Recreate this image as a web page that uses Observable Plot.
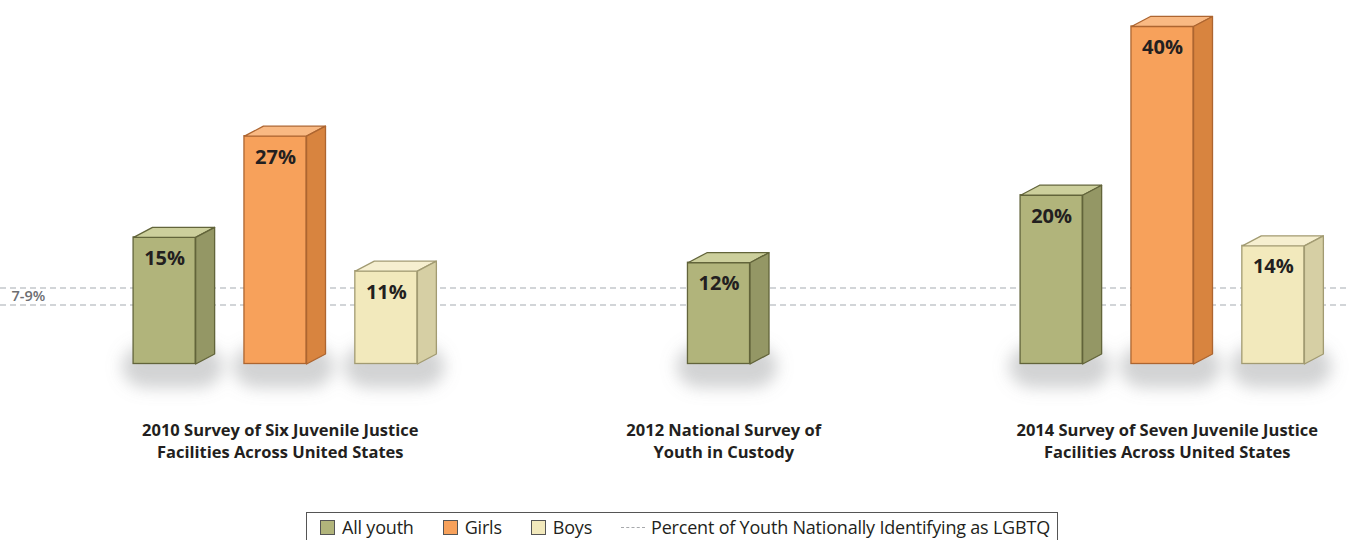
<!DOCTYPE html>
<html>
<head>
<meta charset="utf-8">
<script src="https://cdn.jsdelivr.net/npm/d3@7"></script>
<script src="https://cdn.jsdelivr.net/npm/@observablehq/plot@0.6"></script>
<style>
  html, body { margin: 0; padding: 0; background: #fff; }
  body { width: 1349px; height: 540px; overflow: hidden; position: relative; font-family: "Open Sans", "Noto Sans", sans-serif; }
  #chart svg { display: block; }
  #legend { position: absolute; left: 306px; top: 512px; width: 752px; height: 40px; border: 1px solid #555; box-sizing: border-box; display: flex; align-items: flex-start; padding-top: 2px; padding-left: 13px; font-size: 18px; color: #231f20; letter-spacing: -0.2px; white-space: nowrap; }
  .item { display: flex; align-items: center; margin-right: 29px; }
  .sw { width: 15px; height: 15px; box-sizing: border-box; border: 1px solid #555; margin-right: 7px; }
  .dash { width: 24px; border-top: 1.5px dashed #a7a9ac; margin-right: 6px; }
</style>
</head>
<body>
<div id="chart"></div>
<div id="legend"></div>
<script>
// ---- data ----
const surveys = [
  "2010 Survey of Six Juvenile Justice\nFacilities Across United States",
  "2012 National Survey of\nYouth in Custody",
  "2014 Survey of Seven Juvenile Justice\nFacilities Across United States"
];
const seriesNames = ["All youth", "Girls", "Boys"];
const allYouth = [15, 12, 20];
const girls = [27, null, 40];
const boys = [11, null, 14];
const nationalRange = [7, 9];
const nationalLabel = "7-9%";
const legendLineLabel = "Percent of Youth Nationally Identifying as LGBTQ";

// ---- styles ----
const palette = {
  "All youth": {front: "#b1b47b", top: "#cccf9c", side: "#949765", stroke: "#62643a"},
  "Girls":     {front: "#f7a15b", top: "#f9b983", side: "#d8843f", stroke: "#ad6530"},
  "Boys":      {front: "#f2e9bc", top: "#f6efd0", side: "#d6cfa4", stroke: "#a29b72"}
};

// ---- build table ----
const valuesBySeries = [allYouth, girls, boys];
const bars = [];
surveys.forEach((s, i) => {
  const present = seriesNames.map((n, k) => ({n, v: valuesBySeries[k][i]})).filter(d => d.v != null);
  present.forEach((d, k) => {
    bars.push({survey: s, series: d.n, value: d.v, pos: i * 4 + (k - (present.length - 1) / 2)});
  });
});

const hw = 0.28;      // half width (x units)
const ddx = 0.171;    // depth in x units
const ddy = 1.19;     // depth in y units

// polygon faces
const faces = [];
bars.forEach((b, j) => {
  const x1 = b.pos - hw, x2 = b.pos + hw, v = b.value;
  const top = [[x1, v], [x2, v], [x2 + ddx, v + ddy], [x1 + ddx, v + ddy], [x1, v]];
  const side = [[x2, 0], [x2 + ddx, ddy], [x2 + ddx, v + ddy], [x2, v], [x2, 0]];
  top.forEach(([x, y]) => faces.push({id: "t" + j, face: "top", series: b.series, x, y}));
  side.forEach(([x, y]) => faces.push({id: "s" + j, face: "side", series: b.series, x, y}));
});

const groups = surveys.map((s, i) => ({label: s, pos: i * 4 + ddx / 4}));

const chart = Plot.plot({
  width: 1349,
  height: 508,
  margin: 0,
  x: {domain: [0, 8], range: [275, 1162], axis: null},
  y: {domain: [0, 40], range: [363.5, 26], axis: null},
  style: {fontFamily: "'Open Sans', 'Noto Sans', sans-serif", background: "#fff"},
  marks: [
    Plot.ruleY(nationalRange, {stroke: "#c4c8cb", strokeWidth: 1.4, strokeDasharray: "6,4"}),
    Plot.text([nationalLabel], {y: () => (nationalRange[0] + nationalRange[1]) / 2, frameAnchor: "left", text: d => d, textAnchor: "start", dx: 11, fill: "#6d6e71", fontSize: 14.5, fontWeight: 600}),
    // shadows
    Plot.rect(bars, {x1: d => d.pos - hw - 0.1, x2: d => d.pos + hw + ddx + 0.08, y1: 2.2, y2: -2.9, fill: "#8f9093", fillOpacity: 0.4, rx: 25}),
    // front faces
    Plot.rect(bars, {x1: d => d.pos - hw, x2: d => d.pos + hw, y1: 0, y2: "value", fill: d => palette[d.series].front, stroke: d => palette[d.series].stroke, strokeWidth: 1.3}),
    // side and top faces
    Plot.line(faces, {x: "x", y: "y", z: "id", fill: d => palette[d.series][d.face], stroke: d => palette[d.series].stroke, strokeWidth: 1.3, strokeLinejoin: "round"}),
    // value labels
    Plot.text(bars, {x: "pos", y: "value", text: d => d.value + "%", dy: 21, fill: "#231f20", fontSize: 20, fontWeight: 700}),
    // group labels
    Plot.text(groups, {x: "pos", y: () => 0, text: "label", lineAnchor: "top", dy: 56, lineHeight: 1.35, fill: "#231f20", fontSize: 16.5, fontWeight: 700})
  ]
});

// blur the shadows
const svg = d3.select(chart);
svg.append("defs").append("filter").attr("id", "shblur").attr("x", "-50%").attr("y", "-100%").attr("width", "200%").attr("height", "300%")
  .append("feGaussianBlur").attr("stdDeviation", 8);
const rectGroups = chart.querySelectorAll('g[aria-label="rect"]');
d3.select(rectGroups[0]).attr("filter", "url(#shblur)");

document.getElementById("chart").appendChild(chart);

// legend
const legend = document.getElementById("legend");
seriesNames.forEach(n => {
  const it = document.createElement("div");
  it.className = "item";
  const sw = document.createElement("div");
  sw.className = "sw";
  sw.style.background = palette[n].front;
  it.appendChild(sw);
  it.appendChild(document.createTextNode(n));
  legend.appendChild(it);
});
const li = document.createElement("div");
li.className = "item";
const dash = document.createElement("div");
dash.className = "dash";
li.appendChild(dash);
li.appendChild(document.createTextNode(legendLineLabel));
legend.appendChild(li);
</script>
</body>
</html>
